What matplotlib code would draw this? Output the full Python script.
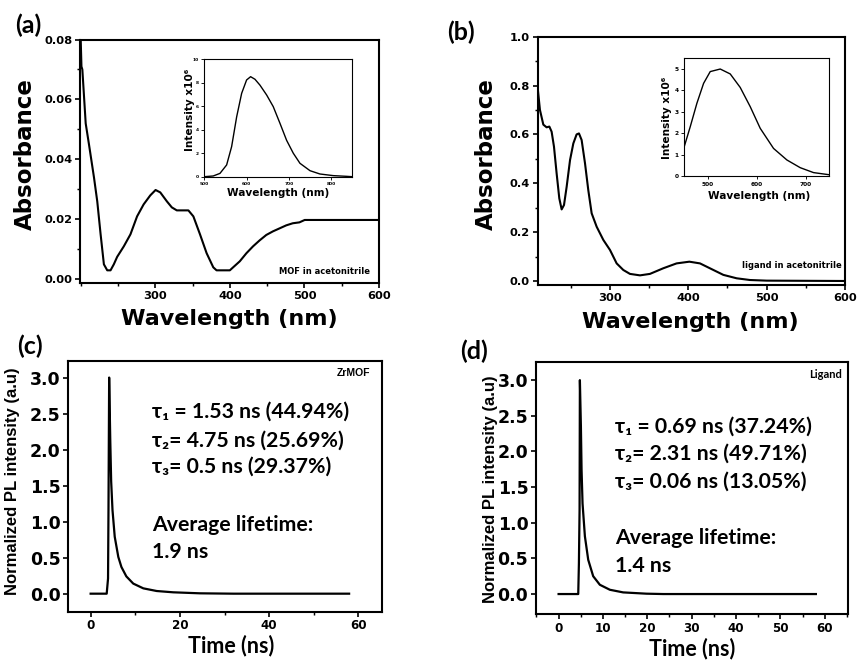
import matplotlib
matplotlib.use("Agg")
import matplotlib.pyplot as plt
from matplotlib.ticker import MultipleLocator, FormatStrFormatter

# ---------------- data ----------------
# (a) UV-vis absorbance of the MOF in acetonitrile
mof_abs_wl = [200, 201, 202.2, 206.7, 211.1, 217.8, 222.2, 226.7, 231.1, 235.6, 240,
              244.4, 248.9, 257.8, 266.7, 275.6, 284.4, 293.3, 300.4, 306.7, 315.6,
              322.2, 328.9, 344.4, 351.1, 360, 368.9, 377.8, 382.2, 400, 404.4,
              413.3, 422.2, 431.1, 440, 448.9, 457.8, 466.7, 475.6, 484.4, 493.3,
              500.4, 598.7]
mof_abs = [0.080, 0.071, 0.070, 0.052, 0.045, 0.034, 0.026, 0.015, 0.005, 0.003, 0.003,
           0.005, 0.0075, 0.011, 0.015, 0.021, 0.025, 0.028, 0.0298, 0.029, 0.026,
           0.024, 0.023, 0.023, 0.021, 0.015, 0.0087, 0.004, 0.003, 0.003, 0.004,
           0.006, 0.0087, 0.011, 0.013, 0.0148, 0.016, 0.017, 0.018, 0.0187, 0.019,
           0.0198, 0.0198]

# (a) inset: MOF emission
mof_pl_wl = [500, 521, 537, 552.8, 564.6, 576.5, 588.3, 600, 609.5, 619.8, 631.6,
             647.4, 663, 678.9, 694.6, 710.4, 726.2, 750, 773.4, 805, 836.5, 850]
mof_pl = [0, 0.06, 0.28, 1.0, 2.56, 5.1, 7.1, 8.24, 8.52, 8.3, 7.8,
          6.96, 5.97, 4.55, 3.1, 2.0, 1.14, 0.51, 0.23, 0.09, 0.03, 0.0]

# (b) UV-vis absorbance of the ligand in acetonitrile
lig_abs_wl = [207.7, 210.6, 214.9, 219.1, 222.6, 225.5, 228.5, 231.9, 235.3, 238.3,
              241.3, 244.7, 249, 253.2, 257.4, 260.4, 263.8, 268.1, 272.3, 276.6,
              283, 291.5, 300, 308.5, 317, 325.5, 338.3, 351, 368, 385, 401.3,
              414.9, 432, 444.7, 461.7, 478.7, 500, 600]
lig_abs = [0.79, 0.70, 0.64, 0.629, 0.632, 0.611, 0.55, 0.44, 0.338, 0.293,
           0.311, 0.386, 0.495, 0.563, 0.60, 0.604, 0.577, 0.482, 0.372, 0.277,
           0.222, 0.168, 0.127, 0.072, 0.045, 0.029, 0.023, 0.029, 0.052, 0.072, 0.079,
           0.072, 0.045, 0.025, 0.011, 0.004, 0.0014, 0.0]

# (b) inset: ligand emission
lig_pl_wl = [452.5, 464.7, 478.3, 491.9, 505.4, 525.8, 546.1, 566.4, 586.8, 607.1,
             634.2, 661.4, 688.5, 715.6, 747.5]
lig_pl = [1.37, 2.3, 3.4, 4.33, 4.88, 5.0, 4.77, 4.14, 3.24, 2.23,
          1.29, 0.75, 0.39, 0.16, 0.06]

# (c) PL decay, ZrMOF
zr_t = [0, 3.6, 3.9, 4.0, 4.15, 4.4, 4.6, 4.9, 5.4, 6.2, 6.9, 8.0, 9.55,
        11.8, 14.8, 18.5, 24.5, 32, 57.9]
zr_i = [0, 0, 0.21, 1.16, 3.0, 2.13, 1.56, 1.16, 0.79, 0.51, 0.37, 0.24, 0.14,
        0.074, 0.037, 0.019, 0.005, 0.0, 0.0]

# (d) PL decay, ligand
lg_t = [0, 4.43, 4.58, 4.73, 4.8, 5.03, 5.18, 5.4, 5.93, 6.68, 7.8, 9.3,
        11.56, 14.56, 19.8, 23.6, 58]
lg_i = [0, 0, 0.43, 1.18, 3.0, 2.35, 1.74, 1.27, 0.81, 0.48, 0.25, 0.13,
        0.06, 0.023, 0.005, 0.0, 0.0]

zr_fit_lines = ["τ₁ = 1.53 ns (44.94%)", "τ₂= 4.75 ns (25.69%)", "τ₃= 0.5 ns (29.37%)",
                "Average lifetime:", "1.9 ns"]
lg_fit_lines = ["τ₁ = 0.69 ns (37.24%)", "τ₂= 2.31 ns (49.71%)", "τ₃= 0.06 ns (13.05%)",
                "Average lifetime:", "1.4 ns"]

# ---------------- styling ----------------
TICK_FONT = ["DejaVu Sans"]
CAL = ["Lato", "DejaVu Sans"]
ARIAL = ["Liberation Sans", "DejaVu Sans"]


def style_axes(ax, lw=1.5, labelsize=8.2, major=3.5, minor=2.0):
    for s in ax.spines.values():
        s.set_linewidth(lw)
    ax.tick_params(which="major", direction="out", length=major, width=lw * 0.8,
                   labelsize=labelsize, pad=2)
    ax.tick_params(which="minor", direction="out", length=minor, width=lw * 0.7)
    for lab in ax.get_xticklabels() + ax.get_yticklabels():
        lab.set_fontfamily(TICK_FONT)
        lab.set_fontweight("bold")


fig = plt.figure(figsize=(8.57, 6.62), dpi=100)

# ---- (a) ----
axa = fig.add_axes([0.0933, 0.5725, 0.3489, 0.3678])
axa.plot(mof_abs_wl, mof_abs, color="black", lw=1.5)
axa.set_xlim(199, 600)
axa.set_ylim(-0.00123, 0.08)
axa.xaxis.set_major_locator(MultipleLocator(100))
axa.xaxis.set_minor_locator(MultipleLocator(50))
axa.yaxis.set_major_locator(MultipleLocator(0.02))
axa.yaxis.set_minor_locator(MultipleLocator(0.01))
axa.yaxis.set_major_formatter(FormatStrFormatter("%.2f"))
axa.set_xticks([300, 400, 500, 600])
style_axes(axa)
axa.set_ylabel("Absorbance", fontsize=16.5, fontweight="bold", family=TICK_FONT)
axa.set_xlabel("Wavelength (nm)", fontsize=16, fontweight="bold", family=TICK_FONT)
axa.yaxis.set_label_coords(-0.145, 0.53)
axa.xaxis.set_label_coords(0.498, -0.105)
axa.text(0.97, 0.046, "MOF in acetonitrile", transform=axa.transAxes, ha="right",
         va="center", fontsize=6, fontweight="bold", family=TICK_FONT)

ia = fig.add_axes([0.2384, 0.7331, 0.1727, 0.1773])
ia.plot(mof_pl_wl, mof_pl, color="black", lw=1.0)
ia.set_xlim(500, 850)
ia.set_ylim(0, 10)
ia.set_xticks([500, 600, 700, 800])
ia.set_yticks([0, 2, 4, 6, 8, 10])
style_axes(ia, lw=0.8, labelsize=3.2, major=2.0, minor=1.0)
ia.set_xlabel("Wavelength (nm)", fontsize=7.6, fontweight="bold", family=TICK_FONT)
ia.set_ylabel("Intensity x10⁶", fontsize=7.6, fontweight="bold", family=TICK_FONT)
ia.xaxis.set_label_coords(0.5, -0.1)
ia.yaxis.set_label_coords(-0.063, 0.568)

# ---- (b) ----
axb = fig.add_axes([0.6274, 0.5695, 0.3586, 0.3751])
axb.plot(lig_abs_wl, lig_abs, color="black", lw=1.5)
axb.set_xlim(207.7, 600)
axb.set_ylim(-0.0164, 1.0)
axb.set_xticks([300, 400, 500, 600])
axb.xaxis.set_minor_locator(MultipleLocator(50))
axb.yaxis.set_major_locator(MultipleLocator(0.2))
axb.yaxis.set_minor_locator(MultipleLocator(0.1))
axb.yaxis.set_major_formatter(FormatStrFormatter("%.1f"))
style_axes(axb)
axb.set_ylabel("Absorbance", fontsize=16.5, fontweight="bold", family=TICK_FONT)
axb.set_xlabel("Wavelength (nm)", fontsize=16, fontweight="bold", family=TICK_FONT)
axb.yaxis.set_label_coords(-0.128, 0.528)
axb.xaxis.set_label_coords(0.498, -0.107)
axb.text(0.989, 0.078, "ligand in acetonitrile", transform=axb.transAxes, ha="right",
         va="center", fontsize=6, fontweight="bold", family=TICK_FONT)

ib = fig.add_axes([0.7981, 0.7341, 0.1692, 0.1778])
ib.plot(lig_pl_wl, lig_pl, color="black", lw=1.0)
ib.set_xlim(452, 747)
ib.set_ylim(0, 5.5)
ib.set_xticks([500, 600, 700])
ib.set_yticks([0, 1, 2, 3, 4, 5])
style_axes(ib, lw=0.8, labelsize=4.2, major=2.0, minor=1.0)
ib.set_xlabel("Wavelength (nm)", fontsize=7.6, fontweight="bold", family=TICK_FONT)
ib.set_ylabel("Intensity x10⁶", fontsize=7.6, fontweight="bold", family=TICK_FONT)
ib.xaxis.set_label_coords(0.519, -0.13)
ib.yaxis.set_label_coords(-0.085, 0.497)

# ---- (c) ----
axc = fig.add_axes([0.0797, 0.0760, 0.3657, 0.3787])
axc.plot(zr_t, zr_i, color="black", lw=1.6)
axc.set_xlim(-5, 65.2)
axc.set_ylim(-0.25, 3.23)
axc.xaxis.set_major_locator(MultipleLocator(20))
axc.xaxis.set_minor_locator(MultipleLocator(10))
axc.yaxis.set_major_locator(MultipleLocator(0.5))
axc.yaxis.set_major_formatter(FormatStrFormatter("%.1f"))
style_axes(axc, labelsize=8.6)
axc.tick_params(axis="y", which="major", labelsize=12.5)
axc.set_ylabel("Normalized PL intensity (a.u)", fontsize=12, fontweight="bold", family=ARIAL)
axc.set_xlabel("Time (ns)", fontsize=15.5, fontweight="bold", family=CAL)
axc.yaxis.set_label_coords(-0.154, 0.522)
axc.xaxis.set_label_coords(0.518, -0.092)
axc.text(0.963, 0.951, "ZrMOF", transform=axc.transAxes, ha="right", va="center",
         fontsize=7.5, fontweight="bold", family=ARIAL)
for line, yy in zip(zr_fit_lines, [2.53, 2.13, 1.76, 0.95, 0.58]):
    axc.text(13.7, yy, line, ha="left", va="center", fontsize=15.3, fontweight="bold",
             family=CAL)

# ---- (d) ----
axd = fig.add_axes([0.6254, 0.0725, 0.3644, 0.3802])
axd.plot(lg_t, lg_i, color="black", lw=1.6)
axd.set_xlim(-5.1, 65.3)
axd.set_ylim(-0.28, 3.25)
axd.xaxis.set_major_locator(MultipleLocator(10))
axd.xaxis.set_minor_locator(MultipleLocator(5))
axd.yaxis.set_major_locator(MultipleLocator(0.5))
axd.yaxis.set_major_formatter(FormatStrFormatter("%.1f"))
style_axes(axd, labelsize=8.6)
axd.tick_params(axis="y", which="major", labelsize=12.5)
axd.set_ylabel("Normalized PL intensity (a.u)", fontsize=12, fontweight="bold", family=ARIAL)
axd.set_xlabel("Time (ns)", fontsize=15.5, fontweight="bold", family=CAL)
axd.yaxis.set_label_coords(-0.121, 0.497)
axd.xaxis.set_label_coords(0.499, -0.094)
axd.text(0.979, 0.951, "Ligand", transform=axd.transAxes, ha="right", va="center",
         fontsize=8, fontweight="bold", family=CAL)
for line, yy in zip(lg_fit_lines, [2.35, 1.97, 1.58, 0.78, 0.39]):
    axd.text(12.7, yy, line, ha="left", va="center", fontsize=15.3, fontweight="bold",
             family=CAL)

# ---- panel letters ----
for lab, (px, py) in zip(["(a)", "(b)", "(c)", "(d)"],
                         [(28, 25), (461, 32), (30, 346), (474, 351)]):
    fig.text(px / 857, 1 - py / 662, lab, ha="center", va="center", fontsize=18,
             family=CAL, fontweight="bold")

fig.savefig("out.png", dpi=100)
